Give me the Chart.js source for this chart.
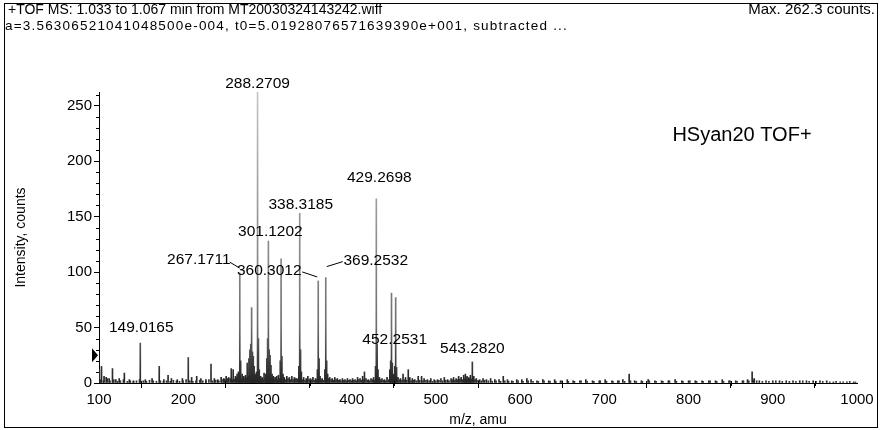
<!DOCTYPE html>
<html>
<head>
<meta charset="utf-8">
<script src="https://cdn.jsdelivr.net/npm/chart.js@4.4.1/dist/chart.umd.min.js"></script>
<style>
  html, body { margin: 0; padding: 0; background: #fff; }
  #wrap { width: 882px; height: 430px; }
</style>
</head>
<body>
<div id="wrap"><canvas id="spectrum" width="882" height="430"></canvas></div>
<script>
// peak list (m/z, counts)
const peakMz = [
  100.5, 103.0, 106.0, 108.5, 112.0, 116.0, 120.0, 124.0, 130.1, 136.0,
  141.0, 149.0165, 155.0, 163.0, 171.5, 177.0, 182.0, 186.0, 193.0, 199.0,
  206.0, 210.0, 216.0, 221.0, 227.0, 233.0, 237.0, 241.0, 245.0, 248.0,
  251.0, 254.0, 257.0, 259.3, 262.0, 264.0, 265.5, 267.1711, 268.2, 270.0,
  272.0, 274.0, 276.0, 278.0, 279.2, 280.2, 281.2, 282.2, 283.2, 284.2,
  285.5, 287.0, 288.2709, 289.3, 290.3, 292.0, 294.0, 296.0, 298.0, 299.3,
  300.2, 301.1202, 302.1, 303.1, 304.2, 305.5, 307.0, 309.0, 311.0, 313.0,
  315.2, 316.2, 317.2, 318.5, 320.0, 323.0, 326.0, 329.0, 332.0, 335.0,
  337.3, 338.3185, 339.3, 340.3, 343.0, 346.0, 348.0, 351.0, 354.0, 357.0,
  359.3, 360.3012, 361.3, 362.5, 365.0, 368.2, 369.2532, 370.3, 371.5, 374.0,
  377.0, 380.0, 383.0, 386.0, 389.0, 392.0, 395.0, 398.0, 401.0, 404.0,
  407.0, 410.0, 413.0, 415.2, 417.0, 420.0, 423.0, 426.0, 428.3, 429.2698,
  430.3, 431.3, 433.0, 436.0, 439.0, 442.0, 445.3, 446.3, 447.3, 448.3,
  450.0, 451.2, 452.2531, 453.3, 455.0, 458.0, 461.0, 464.0, 467.2, 469.0,
  472.0, 475.0, 479.0, 483.0, 486.0, 490.0, 494.0, 498.0, 502.0, 506.0,
  510.0, 514.0, 518.0, 521.0, 524.0, 527.0, 530.0, 533.0, 535.0, 537.0,
  539.0, 541.0, 543.282, 545.0, 548.0, 552.0, 556.0, 560.0, 565.0, 570.0,
  575.0, 580.0, 585.0, 590.0, 596.0, 602.0, 608.0, 613.0, 620.0, 627.0,
  634.0, 641.0, 648.0, 656.0, 663.0, 671.0, 678.0, 686.0, 694.0, 701.0,
  709.0, 716.0, 722.0, 729.5, 736.0, 744.0, 752.0, 760.0, 768.0, 776.0,
  784.0, 792.0, 800.0, 808.0, 816.0, 824.0, 832.0, 840.0, 848.0, 856.0,
  864.0, 870.0, 875.5, 878.0, 884.0, 892.0, 900.0, 908.0, 916.0, 924.0,
  932.0, 940.0, 948.0, 956.0, 964.0, 972.0, 980.0, 988.0, 996.0
];
const peakIntensity = [
  12, 15, 6, 5, 4, 13, 3, 4, 9, 3,
  2, 36, 3, 4, 15, 3, 7, 4, 3, 4,
  23, 5, 6, 4, 3, 17, 4, 3, 5, 4,
  6, 5, 13, 12, 6, 8, 10, 99, 20, 8,
  6, 7, 18, 22, 30, 35, 68, 28, 24, 15,
  8, 10, 262.3, 40, 12, 6, 5, 9, 8, 22,
  40, 128, 30, 25, 16, 8, 6, 5, 6, 7,
  20, 112, 24, 8, 5, 6, 5, 6, 5, 4,
  15, 153, 30, 10, 5, 4, 6, 4, 5, 4,
  12, 92, 22, 6, 4, 12, 95, 20, 8, 5,
  4, 5, 4, 3, 4, 3, 4, 3, 4, 3,
  5, 4, 6, 10, 4, 3, 4, 5, 15, 166,
  35, 12, 5, 4, 3, 5, 12, 20, 81, 18,
  8, 15, 77, 14, 5, 4, 8, 5, 12, 5,
  4, 3, 6, 6, 4, 3, 4, 3, 3, 4,
  5, 3, 4, 5, 4, 6, 5, 7, 8, 6,
  5, 7, 19, 6, 4, 3, 4, 3, 4, 3,
  3, 6, 3, 2, 3, 3, 4, 3, 2, 3,
  2, 3, 2, 3, 2, 2, 3, 2, 2, 3,
  2, 2, 3, 8, 2, 2, 3, 2, 2, 2,
  3, 2, 2, 2, 2, 2, 2, 3, 2, 2,
  2, 3, 10, 4, 2, 2, 2, 2, 2, 2,
  2, 2, 2, 2, 2, 1, 1, 1, 1
];

// baseline hash between the peaks
const noiseMz = [
  101.5, 105.2, 109.8, 113.1, 117.6, 121.9, 125.4, 129.0, 133.7, 137.2,
  140.8, 144.5, 148.1, 152.6, 156.3, 160.0, 164.4, 168.2, 172.9, 176.5,
  180.1, 184.6, 188.3, 192.0, 195.7, 199.9, 203.4, 207.8, 211.5, 215.1,
  219.6, 223.2, 226.8, 230.5, 234.9, 238.6, 242.3, 246.0, 249.4, 252.7,
  255.8, 258.6, 261.3, 263.1, 266.0, 269.1, 271.0, 273.2, 275.0, 277.1,
  279.6, 281.8, 283.6, 285.0, 286.6, 289.9, 291.2, 293.1, 295.0, 297.2,
  299.0, 302.6, 304.9, 306.4, 308.1, 310.2, 312.1, 314.0, 316.9, 319.3,
  321.6, 324.4, 327.2, 330.5, 333.4, 336.1, 341.7, 344.6, 347.1, 349.5,
  352.6, 355.4, 358.2, 363.8, 366.7, 372.8, 375.6, 378.4, 381.5, 384.7,
  387.3, 390.6, 393.5, 396.8, 399.6, 402.4, 405.5, 408.6, 411.7, 414.1,
  418.6, 421.4, 424.7, 427.1, 432.4, 434.6, 437.8, 440.5, 443.7, 449.1,
  454.2, 456.6, 459.7, 462.6, 465.3, 468.1, 470.6, 473.5, 477.0, 480.8,
  484.6, 488.2, 492.1, 495.9, 499.8, 503.6, 507.9, 511.8, 515.6, 519.4,
  522.6, 525.6, 528.5, 531.4, 534.1, 536.0, 538.2, 540.1, 542.0, 546.5,
  550.1, 554.0, 557.8, 562.3, 566.9, 571.5, 576.8, 581.9, 586.4, 591.6,
  597.7, 603.5, 609.6, 615.3, 621.6, 628.4, 635.6, 642.4, 649.7, 657.3,
  664.5, 672.4, 679.6, 687.5, 695.2, 702.6, 710.3, 717.4, 724.1, 731.0,
  737.9, 745.2, 753.4, 761.5, 769.6, 777.3, 785.5, 793.4, 801.6, 809.5,
  817.3, 825.6, 833.4, 841.5, 849.3, 857.6, 865.2, 871.6, 876.8, 880.9,
  887.6, 895.4, 903.6, 911.3, 919.7, 927.5, 935.6, 943.2, 951.4, 959.3,
  967.6, 975.2, 983.5, 991.4, 998.2
];
const noiseIntensity = [
  3, 2, 4, 2, 3, 1.5, 2, 3, 1.5, 2,
  1.5, 2, 3, 2, 1.5, 2.5, 2, 1.5, 2, 1.5,
  2, 1.5, 2.5, 2, 1.5, 2, 3, 2, 1.5, 2,
  2.5, 2, 1.5, 3, 2, 2.5, 2, 3, 3.5, 4,
  4, 3, 3.5, 5, 6, 4, 5, 4, 5, 6,
  8, 10, 7, 6, 5, 5, 4, 4, 3, 4,
  5, 6, 5, 4, 3, 4, 3, 4, 5, 4,
  3, 4, 3, 3, 4, 3, 3, 2.5, 3, 3,
  3, 2.5, 3, 3, 2.5, 4, 3, 2.5, 3, 2.5,
  2, 2.5, 2, 2.5, 2, 2.5, 2, 3, 2.5, 3,
  2.5, 2, 3, 2.5, 4, 3, 2.5, 2, 3, 4,
  4, 3, 2.5, 3, 2.5, 3, 2, 2.5, 2, 2.5,
  2, 2.5, 2, 1.5, 2, 2.5, 2, 2.5, 2, 3,
  2.5, 3, 3.5, 3, 4, 4.5, 3.5, 4, 3.5, 3,
  2.5, 2, 2.5, 2, 1.5, 2, 1.5, 2, 1.5, 1.5,
  2, 1.5, 2, 1.5, 1.5, 2, 1.5, 1.5, 2, 1.5,
  1.5, 2, 1.5, 1.5, 2, 1.5, 1.5, 2, 1.5, 2,
  1.5, 1.5, 2, 1.5, 1.5, 2, 1.5, 1.5, 2, 1.5,
  1.5, 2, 1.5, 1.5, 2, 1.5, 2, 2, 2.5, 2,
  1.5, 1.5, 2, 1.5, 1.5, 1.5, 2, 1.5, 1.5, 1.5,
  1, 1.5, 1, 1.5, 1
];

const labelMz = [149.0165, 267.1711, 288.2709, 301.1202, 338.3185, 360.3012, 369.2532, 429.2698, 452.2531, 543.2820];
const labelText = ['149.0165', '267.1711', '288.2709', '301.1202', '338.3185', '360.3012', '369.2532', '429.2698', '452.2531', '543.2820'];

const xMin = 100, xMax = 1000, xStep = 100, xMinorStep = 50;
const yMin = 0, yMax = 262.3, yStep = 50, yMinorStep = 10;
const thresholdLevel = 25;

const headerLine1 = '+TOF MS: 1.033 to 1.067 min from MT20030324143242.wiff';
const headerLine2 = 'a=3.56306521041048500e-004, t0=5.01928076571639390e+001, subtracted ...';
const maxText = 'Max. 262.3 counts.';
const sampleName = 'HSyan20 TOF+';

const FONT = '"Liberation Sans", Arial, sans-serif';

// label placement, pixels relative to the top of the peak
const labelPlacement = {
  '149.0165': { dx: 1, dy: -15 },
  '267.1711': { dx: -41, dy: -13, leader: [-10, -11, 0, -5] },
  '288.2709': { dx: 0, dy: -8 },
  '301.1202': { dx: 2, dy: -9 },
  '338.3185': { dx: 1, dy: -9 },
  '360.3012': { dx: -49, dy: -10, leader: [-16, -9, -1, -4] },
  '369.2532': { dx: 50, dy: -17, leader: [17, -16, 1, -11] },
  '429.2698': { dx: 3, dy: -21 },
  '452.2531': { dx: -1, dy: 42 },
  '543.2820': { dx: 0, dy: -13 }
};

const spectrumDecor = {
  id: 'spectrumDecor',
  beforeDraw(chart) {
    const ctx = chart.ctx;
    ctx.save();
    ctx.fillStyle = '#fff';
    ctx.fillRect(0, 0, chart.width, chart.height);
    ctx.strokeStyle = '#000';
    ctx.lineWidth = 1;
    ctx.strokeRect(4.5, 3.5, 873, 424);
    ctx.restore();
  },
  afterDraw(chart) {
    const ctx = chart.ctx;
    const xs = chart.scales.x, ys = chart.scales.y;
    ctx.save();
    ctx.strokeStyle = '#000';
    ctx.lineWidth = 1;

    // minor ticks
    ctx.beginPath();
    for (let v = yMin; v <= yMax; v += yMinorStep) {
      if (v % yStep === 0) continue;
      const y = Math.round(ys.getPixelForValue(v)) + 0.5;
      ctx.moveTo(xs.left - 3, y);
      ctx.lineTo(xs.left, y);
    }
    for (let v = xMin + xMinorStep; v < xMax; v += xStep) {
      const x = Math.round(xs.getPixelForValue(v)) + 0.5;
      ctx.moveTo(x, ys.bottom - 2);
      ctx.lineTo(x, ys.bottom + 3);
    }
    ctx.stroke();

    // threshold marker
    const ty = ys.getPixelForValue(thresholdLevel);
    ctx.fillStyle = '#000';
    ctx.beginPath();
    ctx.moveTo(xs.left - 7, ty - 7);
    ctx.lineTo(xs.left - 1, ty);
    ctx.lineTo(xs.left - 7, ty + 7);
    ctx.closePath();
    ctx.fill();

    // peak labels
    ctx.font = '15.5px ' + FONT;
    ctx.textAlign = 'center';
    ctx.textBaseline = 'middle';
    labelMz.forEach((mz, i) => {
      const idx = peakMz.indexOf(mz);
      const px = xs.getPixelForValue(mz);
      const py = ys.getPixelForValue(peakIntensity[idx]);
      const p = labelPlacement[labelText[i]];
      ctx.fillText(labelText[i], px + p.dx, py + p.dy);
      if (p.leader) {
        ctx.beginPath();
        ctx.moveTo(px + p.leader[0], py + p.leader[1]);
        ctx.lineTo(px + p.leader[2], py + p.leader[3]);
        ctx.stroke();
      }
    });

    // header and sample name
    ctx.textAlign = 'left';
    ctx.font = '14px ' + FONT;
    ctx.fillText(headerLine1, 8, 10);
    ctx.font = '13.5px ' + FONT;
    ctx.letterSpacing = '1.2px';
    ctx.fillText(headerLine2, 5, 26);
    ctx.letterSpacing = '0px';
    ctx.font = '15px ' + FONT;
    ctx.textAlign = 'right';
    ctx.fillText(maxText, 875, 10);
    ctx.font = '20px ' + FONT;
    ctx.textAlign = 'center';
    ctx.fillText(sampleName, 742, 135);
    ctx.restore();
  }
};

let barGradient = null;
function barColor(context) {
  const area = context.chart.chartArea;
  if (!area) return '#555';
  if (!barGradient) {
    barGradient = context.chart.ctx.createLinearGradient(0, area.bottom, 0, area.top);
    barGradient.addColorStop(0, '#222');
    barGradient.addColorStop(0.2, '#6e6e6e');
    barGradient.addColorStop(1, '#c6c6c6');
  }
  return barGradient;
}

new Chart(document.getElementById('spectrum'), {
  type: 'bar',
  data: {
    datasets: [{
      data: peakMz.map((mz, i) => ({ x: mz, y: peakIntensity[i] })),
      backgroundColor: barColor,
      borderWidth: 0,
      barThickness: 1,
      grouped: false
    }, {
      data: noiseMz.map((mz, i) => ({ x: mz, y: noiseIntensity[i] })),
      backgroundColor: '#333',
      borderWidth: 0,
      barThickness: 1,
      grouped: false
    }]
  },
  options: {
    responsive: false,
    animation: false,
    layout: { padding: { top: 92, right: 25, left: 0, bottom: 0 } },
    plugins: {
      legend: { display: false },
      tooltip: { enabled: false }
    },
    scales: {
      x: {
        type: 'linear',
        offset: false,
        min: xMin,
        max: xMax,
        afterFit: scale => { scale.height = 47; },
        ticks: {
          stepSize: xStep,
          padding: 3,
          color: '#000',
          font: { family: FONT, size: 15 },
          maxRotation: 0,
          callback: value => String(value)
        },
        grid: { drawOnChartArea: false, drawTicks: true, tickLength: 5, color: '#000' },
        border: { color: '#000', width: 1 },
        title: {
          display: true,
          text: 'm/z, amu',
          color: '#000',
          font: { family: FONT, size: 14 },
          padding: { top: 0, bottom: 1.6 }
        }
      },
      y: {
        min: yMin,
        max: yMax,
        afterFit: scale => { scale.width = 99; },
        ticks: {
          stepSize: yStep,
          includeBounds: false,
          padding: 2,
          color: '#000',
          font: { family: FONT, size: 15 }
        },
        grid: { drawOnChartArea: false, drawTicks: true, tickLength: 5, color: '#000' },
        border: { color: '#000', width: 1 },
        title: {
          display: true,
          text: 'Intensity, counts',
          color: '#000',
          font: { family: FONT, size: 14 },
          padding: { top: 12.6, bottom: 0 }
        }
      }
    }
  },
  plugins: [spectrumDecor]
});
</script>
</body>
</html>
